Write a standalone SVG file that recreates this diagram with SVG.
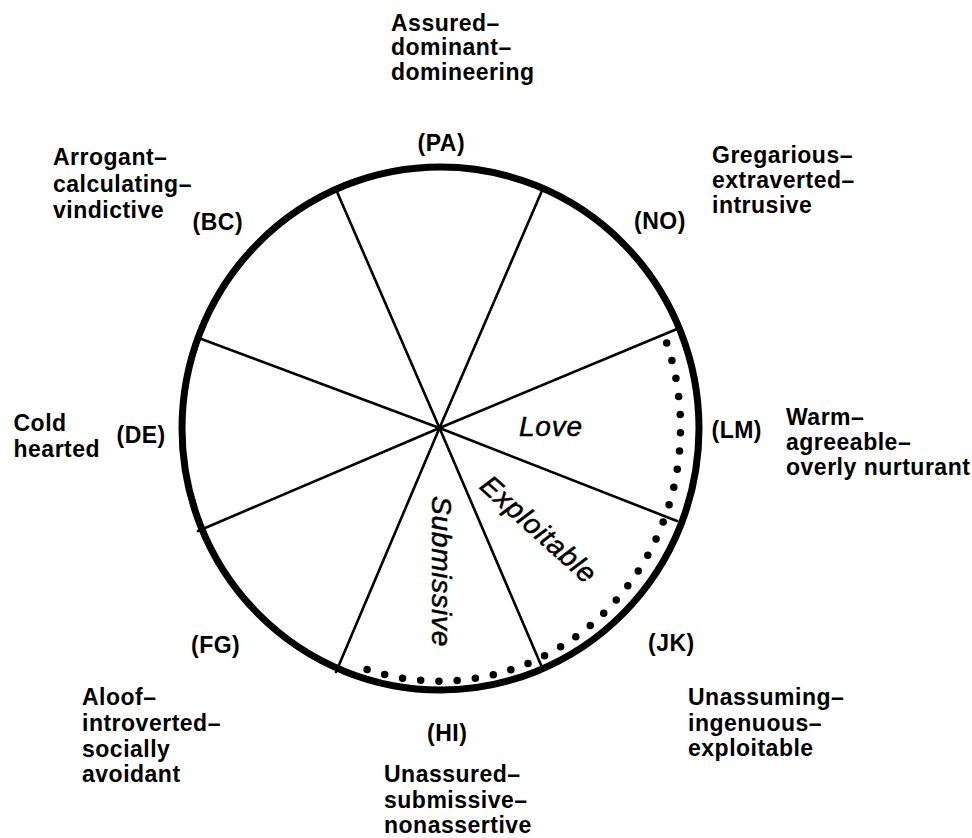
<svg xmlns="http://www.w3.org/2000/svg" width="972" height="838" viewBox="0 0 972 838">
<style>
  .lbl { font-family: "Liberation Sans", Arial, Helvetica, sans-serif; font-weight: bold; font-size: 23px; letter-spacing: 0.5px; fill: #000; }
  .inner { font-family: "Liberation Sans", Arial, Helvetica, sans-serif; font-weight: normal; font-style: italic; font-size: 28px; letter-spacing: 0.8px; fill: #000; stroke: #000; stroke-width: 0.5; }
  .spoke { stroke: #000; stroke-width: 2.6; stroke-linecap: round; fill: none; }
</style>
<rect width="972" height="838" fill="#fff"/>

<g id="connectors">
  <line class="spoke" x1="439.5" y1="428" x2="336" y2="189.5"/>
  <line class="spoke" x1="439.5" y1="428" x2="542.5" y2="189.5"/>
  <line class="spoke" x1="439.5" y1="428" x2="677" y2="329"/>
  <line class="spoke" x1="439.5" y1="428" x2="677" y2="521"/>
  <line class="spoke" x1="439.5" y1="428" x2="541" y2="665"/>
  <line class="spoke" x1="439.5" y1="428" x2="336" y2="672"/>
  <line class="spoke" x1="439.5" y1="428" x2="198" y2="531"/>
  <line class="spoke" x1="439.5" y1="428" x2="196" y2="337"/>
</g>

<g id="circle">
  <ellipse cx="440.5" cy="428.5" rx="258.5" ry="261.5" fill="none" stroke="#000" stroke-width="7"/>
</g>

<g id="dotted-arc">
  <path d="M 666.7 343 A 241 253.5 0 0 1 350 663" pathLength="31" fill="none" stroke="#000" stroke-width="7.5" stroke-linecap="round" stroke-dasharray="0 1"/>
</g>

<g id="inner-labels">
  <text class="inner" x="519" y="436">Love</text>
  <text class="inner" text-anchor="middle" transform="translate(539,529) rotate(42)" x="0" y="10">Exploitable</text>
  <text class="inner" text-anchor="middle" transform="translate(441.5,571.5) rotate(90)" x="0" y="10">Submissive</text>
</g>

<g id="node-PA">
  <text class="lbl" x="391" y="30.5">Assured–</text>
  <text class="lbl" x="391" y="55">dominant–</text>
  <text class="lbl" x="391" y="79.5">domineering</text>
  <text class="lbl" x="417.5" y="151">(PA)</text>
</g>

<g id="node-BC">
  <text class="lbl" x="53" y="165">Arrogant–</text>
  <text class="lbl" x="53" y="191.5">calculating–</text>
  <text class="lbl" x="53" y="218">vindictive</text>
  <text class="lbl" x="192.5" y="230">(BC)</text>
</g>

<g id="node-NO">
  <text class="lbl" x="712" y="163">Gregarious–</text>
  <text class="lbl" x="712" y="188">extraverted–</text>
  <text class="lbl" x="712" y="213">intrusive</text>
  <text class="lbl" x="634" y="229">(NO)</text>
</g>

<g id="node-DE">
  <text class="lbl" x="13.5" y="431">Cold</text>
  <text class="lbl" x="13.5" y="457">hearted</text>
  <text class="lbl" x="116.5" y="443">(DE)</text>
</g>

<g id="node-LM">
  <text class="lbl" x="711.5" y="438">(LM)</text>
  <text class="lbl" x="786" y="425">Warm–</text>
  <text class="lbl" x="786" y="450">agreeable–</text>
  <text class="lbl" x="786" y="475">overly nurturant</text>
</g>

<g id="node-FG">
  <text class="lbl" x="191" y="653">(FG)</text>
  <text class="lbl" x="82" y="705">Aloof–</text>
  <text class="lbl" x="82" y="731">introverted–</text>
  <text class="lbl" x="82" y="756.5">socially</text>
  <text class="lbl" x="82" y="782">avoidant</text>
</g>

<g id="node-HI">
  <text class="lbl" x="427" y="741">(HI)</text>
  <text class="lbl" x="384" y="782">Unassured–</text>
  <text class="lbl" x="384" y="807.5">submissive–</text>
  <text class="lbl" x="384" y="833">nonassertive</text>
</g>

<g id="node-JK">
  <text class="lbl" x="648" y="651">(JK)</text>
  <text class="lbl" x="688" y="705">Unassuming–</text>
  <text class="lbl" x="688" y="731">ingenuous–</text>
  <text class="lbl" x="688" y="756">exploitable</text>
</g>
</svg>
